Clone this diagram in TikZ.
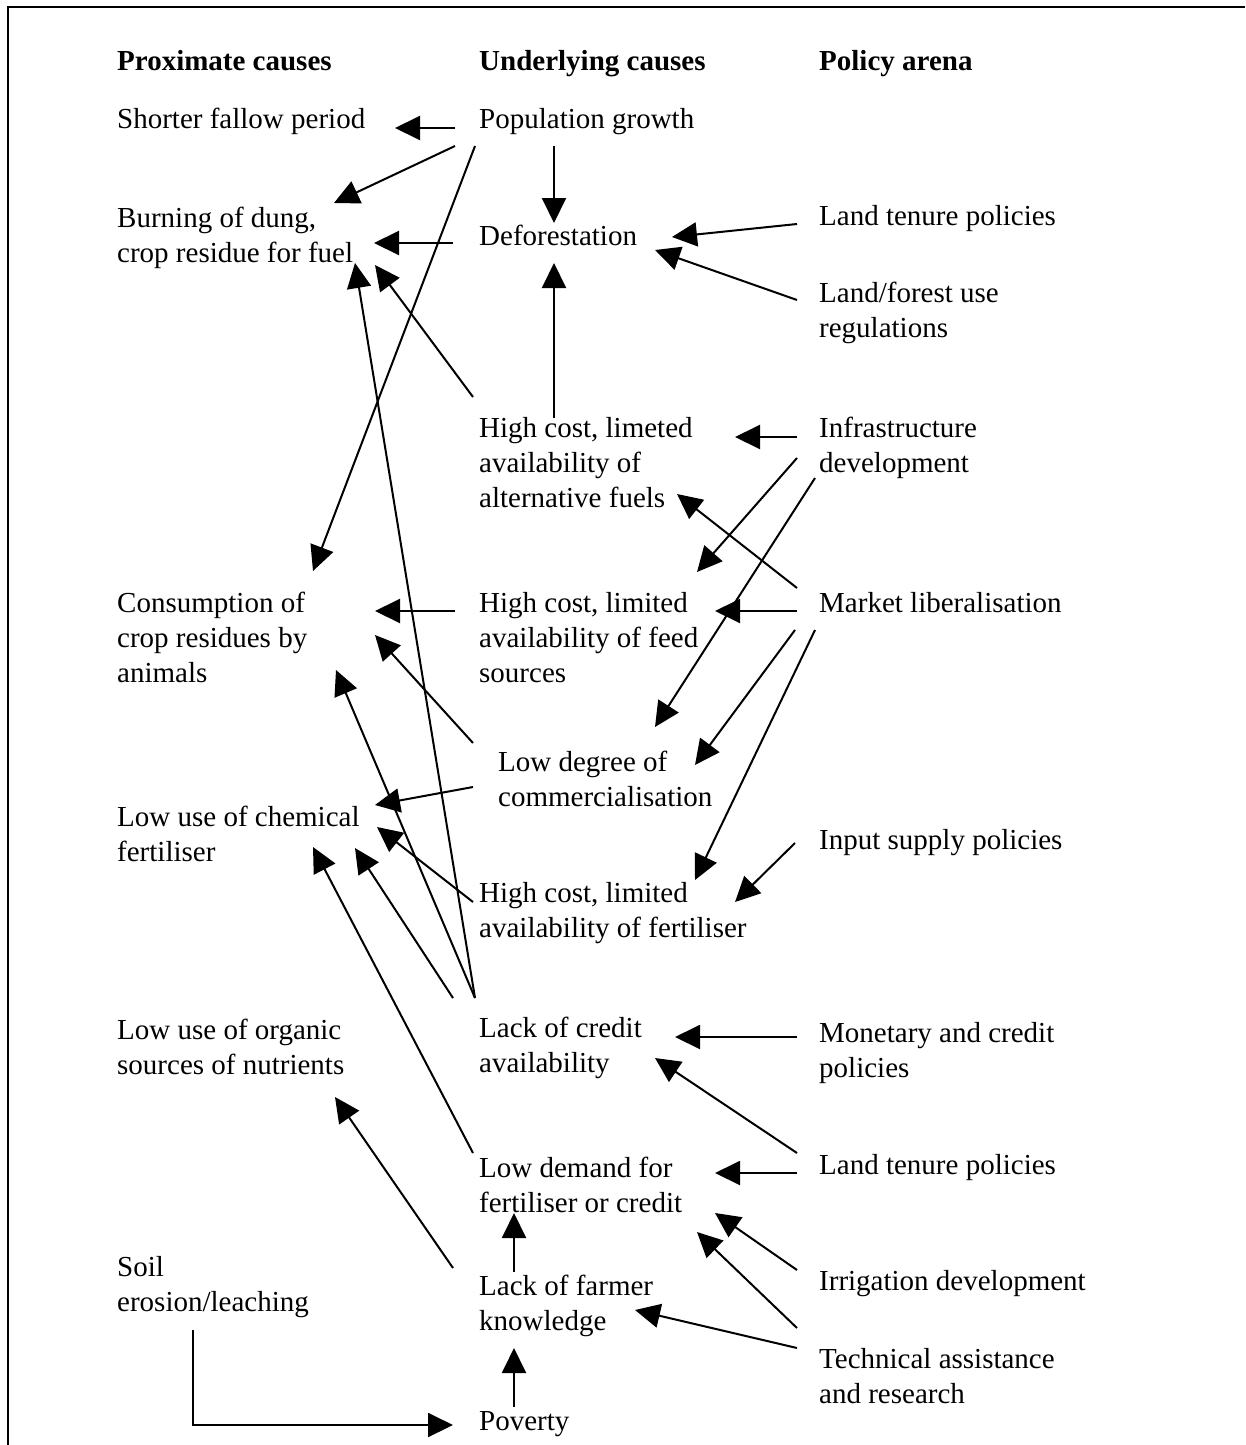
\documentclass[tikz,border=0pt]{standalone}
\usepackage{fontspec}
\setmainfont{Liberation Serif}
\usetikzlibrary{arrows.meta}
\newcommand\dfont{\fontsize{29}{35}\selectfont}
\begin{document}
\begin{tikzpicture}[x=1pt,y=-1pt,
  txt/.style={anchor=north west,inner sep=0pt,align=left,font=\dfont,yshift=24.5pt},
  hdr/.style={txt,font=\dfont\bfseries},
  arr/.style={line width=2pt,-{Triangle[length=25pt,width=24pt]}}]
\useasboundingbox (0,0) rectangle (1245,1445);
\draw[line width=2.5pt] (8,1445) -- (8,7) -- (1245,7);
% column headers
\node[hdr] (h1) at (117,70) {\strut Proximate causes};
\node[hdr] (h2) at (479,70) {\strut Underlying causes};
\node[hdr] (h3) at (819,70) {\strut Policy arena};
% proximate causes
\node[txt] (sfp) at (117,128) {\strut Shorter fallow period};
\node[txt] (bur) at (117,227) {\strut Burning of dung,\\crop residue for fuel};
\node[txt] (con) at (117,612) {\strut Consumption of\\crop residues by\\animals};
\node[txt] (chem) at (117,826) {\strut Low use of chemical\\fertiliser};
\node[txt] (org) at (117,1039) {\strut Low use of organic\\sources of nutrients};
\node[txt] (soil) at (117,1276) {\strut Soil\\erosion/leaching};
% underlying causes
\node[txt] (pop) at (479,128) {\strut Population growth};
\node[txt] (def) at (479,245) {\strut Deforestation};
\node[txt] (fuel) at (479,437) {\strut High cost, limeted\\availability of\\alternative fuels};
\node[txt] (feed) at (479,612) {\strut High cost, limited\\availability of feed\\sources};
\node[txt] (comm) at (498,771) {\strut Low degree of\\commercialisation};
\node[txt] (fert) at (479,902) {\strut High cost, limited\\availability of fertiliser};
\node[txt] (cred) at (479,1037) {\strut Lack of credit\\availability};
\node[txt] (dem) at (479,1177) {\strut Low demand for\\fertiliser or credit};
\node[txt] (know) at (479,1295) {\strut Lack of farmer\\knowledge};
\node[txt] (pov) at (479,1430) {\strut Poverty};
% policy arena
\node[txt] (lt1) at (819,225) {\strut Land tenure policies};
\node[txt] (lfu) at (819,302) {\strut Land/forest use\\regulations};
\node[txt] (inf) at (819,437) {\strut Infrastructure\\development};
\node[txt] (mkt) at (819,612) {\strut Market liberalisation};
\node[txt] (inp) at (819,849) {\strut Input supply policies};
\node[txt] (mon) at (819,1042) {\strut Monetary and credit\\policies};
\node[txt] (lt2) at (819,1174) {\strut Land tenure policies};
\node[txt] (irr) at (819,1290) {\strut Irrigation development};
\node[txt] (tech) at (819,1368) {\strut Technical assistance\\and research};
% connector end points
\coordinate (pop-a) at (455,128);  \coordinate (sfp-in) at (395,128);
\coordinate (pop-b) at (455,146);  \coordinate (bur-in1) at (334,203);
\coordinate (pop-c) at (475,146);  \coordinate (con-in1) at (313,571);
\coordinate (pop-d) at (554,146);  \coordinate (def-in1) at (554,223);
\coordinate (def-a) at (453,243);  \coordinate (bur-in2) at (374,243);
\coordinate (lt1-a) at (797,224);  \coordinate (def-in2) at (672,237);
\coordinate (lfu-a) at (797,300);  \coordinate (def-in3) at (655,250);
\coordinate (fuel-a) at (554,418); \coordinate (def-in4) at (554,263);
\coordinate (fuel-b) at (473,397); \coordinate (bur-in3) at (375,265);
\coordinate (cred-a) at (475,998); \coordinate (bur-in4) at (355,263);
\coordinate (con-in2) at (336,670);
\coordinate (cred-b) at (453,998); \coordinate (chem-in1) at (355,848);
\coordinate (dem-a) at (473,1153); \coordinate (chem-in2) at (313,847);
\coordinate (know-a) at (453,1268); \coordinate (org-in) at (335,1097);
\coordinate (know-b) at (514,1272); \coordinate (dem-in1) at (514,1213);
\coordinate (pov-a) at (514,1407); \coordinate (know-in1) at (514,1348);
\coordinate (inf-a) at (797,437);  \coordinate (fuel-in1) at (735,437);
\coordinate (inf-b) at (797,458);  \coordinate (feed-in1) at (697,572);
\coordinate (inf-c) at (815,478);  \coordinate (comm-in1) at (655,727);
\coordinate (mkt-a) at (797,588);  \coordinate (fuel-in2) at (677,494);
\coordinate (mkt-b) at (797,611);  \coordinate (feed-in2) at (715,611);
\coordinate (mkt-c) at (795,630);  \coordinate (comm-in2) at (695,765);
\coordinate (mkt-d) at (815,630);  \coordinate (fert-in1) at (695,880);
\coordinate (inp-a) at (795,843);  \coordinate (fert-in2) at (735,902);
\coordinate (mon-a) at (797,1037); \coordinate (cred-in1) at (675,1037);
\coordinate (lt2-a) at (797,1153); \coordinate (cred-in2) at (655,1058);
\coordinate (lt2-b) at (797,1173); \coordinate (dem-in2) at (715,1173);
\coordinate (irr-a) at (797,1270); \coordinate (dem-in3) at (715,1213);
\coordinate (tech-a) at (797,1328); \coordinate (dem-in4) at (697,1232);
\coordinate (tech-b) at (797,1348); \coordinate (know-in2) at (635,1310);
\coordinate (soil-a) at (193,1330); \coordinate (pov-in) at (453,1425);
\coordinate (feed-a) at (455,611); \coordinate (con-in3) at (375,611);
\coordinate (comm-a) at (473,743); \coordinate (con-in4) at (375,635);
\coordinate (comm-b) at (473,787); \coordinate (chem-in3) at (375,805);
\coordinate (fert-a) at (473,902); \coordinate (chem-in4) at (377,827);
% connectors
\draw[arr] (pop-a) -- (sfp-in);
\draw[arr] (pop-b) -- (bur-in1);
\draw[arr] (pop-c) -- (con-in1);
\draw[arr] (pop-d) -- (def-in1);
\draw[arr] (def-a) -- (bur-in2);
\draw[arr] (lt1-a) -- (def-in2);
\draw[arr] (lfu-a) -- (def-in3);
\draw[arr] (fuel-a) -- (def-in4);
\draw[arr] (fuel-b) -- (bur-in3);
\draw[arr] (cred-a) -- (bur-in4);
\draw[arr] (cred-a) -- (con-in2);
\draw[arr] (cred-b) -- (chem-in1);
\draw[arr] (dem-a) -- (chem-in2);
\draw[arr] (know-a) -- (org-in);
\draw[arr] (know-b) -- (dem-in1);
\draw[arr] (pov-a) -- (know-in1);
\draw[arr] (inf-a) -- (fuel-in1);
\draw[arr] (inf-b) -- (feed-in1);
\draw[arr] (inf-c) -- (comm-in1);
\draw[arr] (mkt-a) -- (fuel-in2);
\draw[arr] (mkt-b) -- (feed-in2);
\draw[arr] (mkt-c) -- (comm-in2);
\draw[arr] (mkt-d) -- (fert-in1);
\draw[arr] (inp-a) -- (fert-in2);
\draw[arr] (mon-a) -- (cred-in1);
\draw[arr] (lt2-a) -- (cred-in2);
\draw[arr] (lt2-b) -- (dem-in2);
\draw[arr] (irr-a) -- (dem-in3);
\draw[arr] (tech-a) -- (dem-in4);
\draw[arr] (tech-b) -- (know-in2);
\draw[arr] (soil-a) |- (pov-in);
\draw[arr] (feed-a) -- (con-in3);
\draw[arr] (comm-a) -- (con-in4);
\draw[arr] (comm-b) -- (chem-in3);
\draw[arr] (fert-a) -- (chem-in4);
\end{tikzpicture}
\end{document}
